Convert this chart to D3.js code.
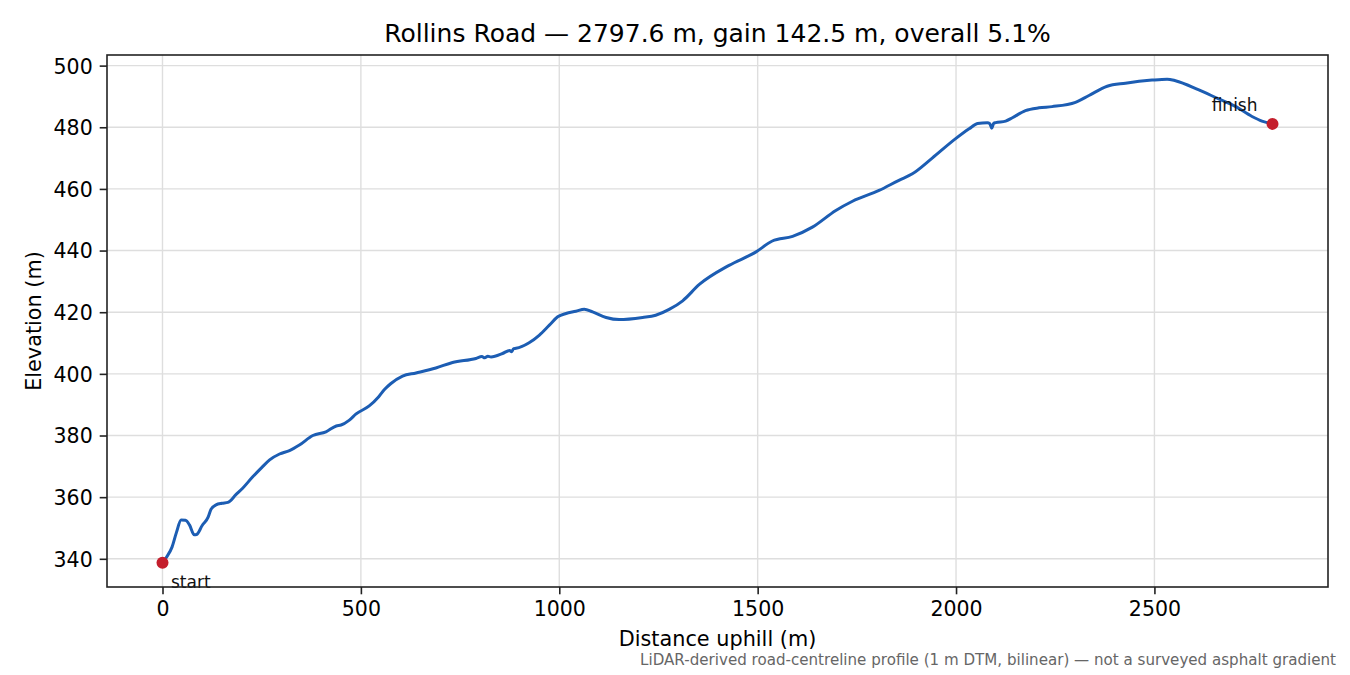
<!DOCTYPE html>
<html>
<head>
<meta charset="utf-8">
<script src="https://cdn.jsdelivr.net/npm/d3@7"></script>
<style>
    html, body { margin: 0; padding: 0; background: #fff; }
    text { font-family: "DejaVu Sans", sans-serif; }
</style>
</head>
<body>
<div class="container"></div>
<script>
// distance along the road (m) and elevation (m)
const distance = [
    0, 10, 24, 35, 47, 58, 68, 80, 86, 100, 115, 122, 135, 150, 165, 185, 202, 228, 250, 270,
    295, 320, 345, 379, 412, 438, 450, 471, 488, 521, 545, 560, 575, 605, 639, 689, 731, 790,
    805, 812, 820, 828, 857, 875, 880, 885, 891, 924, 950, 975, 996, 1017, 1042, 1063, 1084,
    1118, 1151, 1210, 1243, 1277, 1311, 1353, 1428, 1495, 1537, 1588, 1638, 1697, 1739, 1806,
    1856, 1890, 1940, 1999, 2033, 2054, 2079, 2085, 2090, 2095, 2100, 2125, 2142, 2175, 2209,
    2242, 2301, 2335, 2381, 2427, 2494, 2532, 2553, 2612, 2662, 2704, 2746, 2771, 2797.6
]
const elevation = [
    338.7, 340.5, 343.8, 348.5, 352.6, 352.5, 351.0, 347.8, 347.9, 350.8, 353.5, 356.0, 357.5,
    358.0, 358.3, 360.8, 362.9, 366.7, 369.6, 372.1, 374.0, 375.1, 376.9, 380.0, 381.2, 383.1,
    383.4, 385.0, 387.0, 389.6, 392.6, 395.0, 396.8, 399.3, 400.3, 401.9, 403.7, 405.0, 405.6,
    405.2, 405.7, 405.5, 406.6, 407.6, 407.2, 408.2, 408.3, 410.1, 412.6, 415.8, 418.5, 419.6,
    420.3, 421.0, 420.1, 418.3, 417.6, 418.3, 419.0, 420.9, 423.7, 429.0, 435.2, 439.5, 443.1,
    444.6, 447.6, 453.0, 456.0, 459.5, 462.8, 464.9, 470.0, 476.3, 479.5, 481.2, 481.5, 481.2,
    479.7, 481.3, 481.5, 482.0, 483.1, 485.4, 486.3, 486.7, 488.1, 490.3, 493.3, 494.3, 495.3,
    495.6, 495.1, 492.1, 489.2, 486.8, 483.5, 482.0, 481.1
]
const xTicks = [0, 500, 1000, 1500, 2000, 2500]
const yTicks = [340, 360, 380, 400, 420, 440, 460, 480, 500]
const endLabels = ['start', 'finish']

const titleText = 'Rollins Road \u2014 2797.6 m, gain 142.5 m, overall 5.1%'
const noteText = 'LiDAR-derived road-centreline profile (1 m DTM, bilinear) \u2014 not a surveyed asphalt gradient'

const width = 1350
const height = 675
const box = { left: 107, right: 1328, top: 55, bottom: 587 }

const points = distance.map((d, i) => ({ d, e: elevation[i] }))

// matplotlib style 5% margins
const pad = ([lo, hi]) => [lo - (hi - lo) * 0.05, hi + (hi - lo) * 0.05]

const x = d3.scaleLinear()
    .domain(pad(d3.extent(distance)))
    .range([box.left, box.right])

const y = d3.scaleLinear()
    .domain(pad(d3.extent(elevation)))
    .range([box.bottom, box.top])

const svg = d3.select('.container')
    .append('svg')
    .attr('width', width)
    .attr('height', height)

// grid
svg.append('g')
    .selectAll('line')
    .data(xTicks)
    .join('line')
    .attr('x1', d => x(d))
    .attr('x2', d => x(d))
    .attr('y1', box.top)
    .attr('y2', box.bottom)
    .attr('stroke', '#dedede')
    .attr('stroke-width', 1.4)

svg.append('g')
    .selectAll('line')
    .data(yTicks)
    .join('line')
    .attr('x1', box.left)
    .attr('x2', box.right)
    .attr('y1', d => y(d))
    .attr('y2', d => y(d))
    .attr('stroke', '#dedede')
    .attr('stroke-width', 1.4)

// axes
const xAxis = svg.append('g')
    .attr('transform', `translate(0,${box.bottom})`)
    .call(d3.axisBottom(x).tickValues(xTicks).tickFormat(d3.format('d'))
        .tickSize(7.3).tickPadding(7).tickSizeOuter(0))

const yAxis = svg.append('g')
    .attr('transform', `translate(${box.left},0)`)
    .call(d3.axisLeft(y).tickValues(yTicks).tickFormat(d3.format('d'))
        .tickSize(7.3).tickPadding(7).tickSizeOuter(0))

for (const axis of [xAxis, yAxis]) {
    axis.select('.domain').remove()
    axis.selectAll('.tick line').attr('stroke', '#222').attr('stroke-width', 1.6)
    axis.selectAll('.tick text')
        .attr('fill', '#000')
        .style('font-family', '"DejaVu Sans", sans-serif')
        .style('font-size', '20.5px')
}
xAxis.selectAll('.tick text').attr('dy', '0.74em')
yAxis.selectAll('.tick text').attr('dy', '0.36em')

// profile line
svg.append('path')
    .datum(points)
    .attr('fill', 'none')
    .attr('stroke', '#1c5db3')
    .attr('stroke-width', 3)
    .attr('stroke-linejoin', 'round')
    .attr('d', d3.line()
        .x(p => x(p.d))
        .y(p => y(p.e))
        .curve(d3.curveMonotoneX))

// start / finish markers
const ends = [points[0], points[points.length - 1]]

svg.append('g')
    .selectAll('circle')
    .data(ends)
    .join('circle')
    .attr('cx', p => x(p.d))
    .attr('cy', p => y(p.e))
    .attr('r', 6)
    .attr('fill', '#c41e2c')

svg.append('g')
    .selectAll('text')
    .data(ends)
    .join('text')
    .attr('x', (p, i) => x(p.d) + (i === 0 ? 8.5 : -15))
    .attr('y', (p, i) => y(p.e) + (i === 0 ? 25 : -12.5))
    .attr('text-anchor', (p, i) => i === 0 ? 'start' : 'end')
    .style('font-size', '17px')
    .attr('fill', '#111')
    .text((p, i) => endLabels[i])

// frame
svg.append('rect')
    .attr('x', box.left)
    .attr('y', box.top)
    .attr('width', box.right - box.left)
    .attr('height', box.bottom - box.top)
    .attr('fill', 'none')
    .attr('stroke', '#222')
    .attr('stroke-width', 1.6)

// titles
svg.append('text')
    .attr('x', (box.left + box.right) / 2)
    .attr('y', 42)
    .attr('text-anchor', 'middle')
    .style('font-size', '25px')
    .text(titleText)

svg.append('text')
    .attr('x', (box.left + box.right) / 2)
    .attr('y', 646)
    .attr('text-anchor', 'middle')
    .style('font-size', '20.8px')
    .text('Distance uphill (m)')

svg.append('text')
    .attr('transform', `translate(41,${(box.top + box.bottom) / 2}) rotate(-90)`)
    .attr('text-anchor', 'middle')
    .style('font-size', '20.8px')
    .text('Elevation (m)')

svg.append('text')
    .attr('x', 1336)
    .attr('y', 665)
    .attr('text-anchor', 'end')
    .style('font-size', '15.1px')
    .attr('fill', '#666')
    .text(noteText)
</script>
</body>
</html>
